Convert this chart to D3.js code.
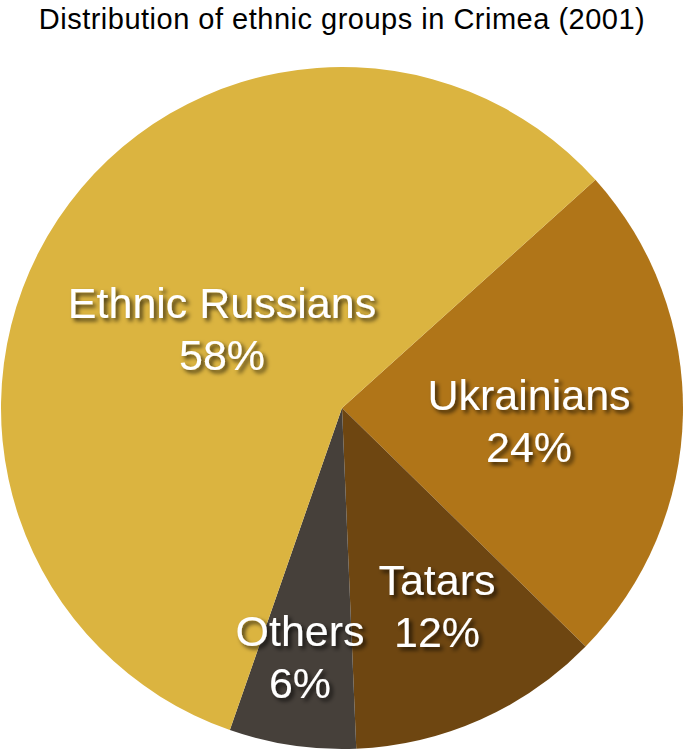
<!DOCTYPE html>
<html>
<head>
<meta charset="utf-8">
<script src="https://cdn.jsdelivr.net/npm/d3@7"></script>
<style>
  body { margin: 0; background: #fff; }
  svg { display: block; }
</style>
</head>
<body>
<script>
// values
var groups = ["Ethnic Russians", "Ukrainians", "Tatars", "Others"];
var shares = [58, 24, 12, 6];
var sliceColors = ["#dbb440", "#b07518", "#6e4611", "#46403a"];
var pctLabels = ["58%", "24%", "12%", "6%"];

var w = 684;
var h = 750;
var cx = 342, cy = 408;
var radius = 341;
var startAngle = 48 * Math.PI / 180; // Ukrainians slice begins at ~48deg

var svg = d3.select("body")
  .append("svg")
  .attr("width", w)
  .attr("height", h);

// soft shadow for the white labels
var filter = svg.append("defs").append("filter")
  .attr("id", "shadow")
  .attr("x", "-20%").attr("y", "-20%")
  .attr("width", "140%").attr("height", "160%");
filter.append("feDropShadow")
  .attr("dx", 3).attr("dy", 3)
  .attr("stdDeviation", 2.2)
  .attr("flood-color", "#000")
  .attr("flood-opacity", 0.7);

svg.append("text")
  .text("Distribution of ethnic groups in Crimea (2001)")
  .attr("x", w / 2)
  .attr("y", 29)
  .attr("text-anchor", "middle")
  .attr("font-family", "Liberation Sans, Arial, sans-serif")
  .attr("font-size", "29px")
  .attr("letter-spacing", "0.5px")
  .attr("fill", "#000");

// Russians drawn last in order, so rotate the pie so Ukrainians start at ~48deg
var order = [1, 2, 3, 0];
var pie = d3.pie()
  .sort(null)
  .value(function(i) { return shares[i]; })
  .startAngle(startAngle)
  .endAngle(startAngle + 2 * Math.PI);

var arc = d3.arc().innerRadius(0).outerRadius(radius);

var g = svg.append("g").attr("transform", "translate(" + cx + "," + cy + ")");

g.selectAll("path")
  .data(pie(order))
  .enter()
  .append("path")
  .attr("d", arc)
  .attr("fill", function(d) { return sliceColors[d.data]; });

// label positions: [x, y of first baseline] relative to centre, by group index
var labelPos = [
  [-120, -90],
  [187, 2],
  [95, 187],
  [-42, 238]
];
var firstLines = ["Ethnic Russians", "Ukrainians", "Tatars", "Others"];

var labels = g.selectAll("text.lbl")
  .data(d3.range(groups.length))
  .enter()
  .append("text")
  .attr("class", "lbl")
  .attr("text-anchor", "middle")
  .attr("font-family", "Liberation Sans, Arial, sans-serif")
  .attr("font-size", "43px")
  .attr("fill", "#fff")
  .attr("filter", "url(#shadow)")
  .attr("transform", function(i) { return "translate(" + labelPos[i][0] + "," + labelPos[i][1] + ")"; });

labels.append("tspan")
  .attr("x", 0)
  .attr("y", 0)
  .text(function(i) { return firstLines[i]; });

labels.append("tspan")
  .attr("x", 0)
  .attr("y", 52)
  .text(function(i) { return pctLabels[i]; });
</script>
</body>
</html>
